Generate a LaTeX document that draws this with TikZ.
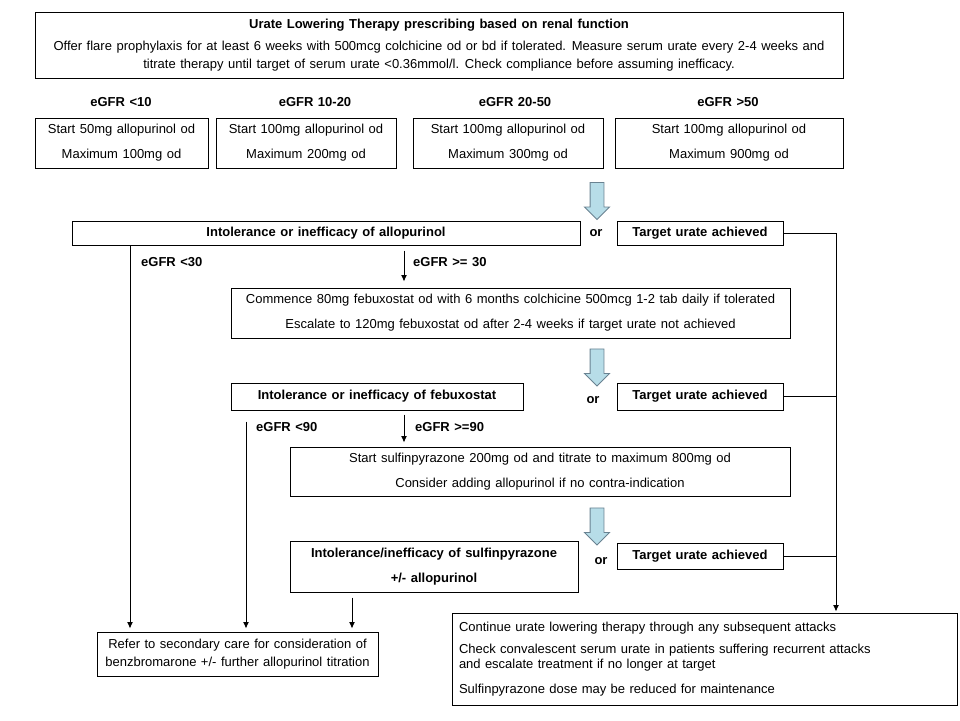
\documentclass[tikz,border=0pt]{standalone}
\usepackage{fontspec}
\setmainfont[WordSpace=1.25]{Liberation Sans}
\usetikzlibrary{shapes,arrows,arrows.meta}
\usetikzlibrary{positioning}

\definecolor{arrowblue}{RGB}{183,221,232}
\definecolor{arrowline}{RGB}{105,130,145}

\begin{document}
\fontsize{13}{15}\selectfont
\begin{tikzpicture}[>={Latex[length=6.5pt,width=6pt]}, x=1pt, y=-1pt]
	\tikzstyle{box} = [draw, line width=1pt, align=center, inner sep=0pt];
	\tikzstyle{bbox} = [box, font=\bfseries];
	\tikzstyle{lbl} = [inner sep=0pt, font=\bfseries];
	\tikzstyle{fat arrow} = [single arrow, draw=arrowline, fill=arrowblue, line width=0.9pt,
		rotate=-90, minimum height=37pt, inner sep=6.5pt,
		single arrow head extend=5.5pt];
	\tikzstyle{link} = [line width=0.9pt];

	\useasboundingbox (0,0) rectangle (960,720);

	% heading
	\node [box, minimum width=808pt, minimum height=66pt] (h_0) at (439,45)
		{\textbf{Urate Lowering Therapy prescribing based on renal function}\\[7pt]
		 Offer flare prophylaxis for at least 6 weeks with 500mcg colchicine od or bd if tolerated. Measure serum urate every 2-4 weeks and\\[3pt]
		 titrate therapy until target of serum urate <0.36mmol/l. Check compliance before assuming inefficacy.};

	% allopurinol by eGFR
	\node [lbl] (g_1) at (121,102) {eGFR <10};
	\node [lbl] (g_2) at (315,102) {eGFR 10-20};
	\node [lbl] (g_3) at (515,102) {eGFR 20-50};
	\node [lbl] (g_4) at (728,102) {eGFR >50};

	\node [box, minimum width=173pt, minimum height=50pt] (b_1) at (121.5,143) {Start 50mg allopurinol od\\[10pt] Maximum 100mg od};
	\node [box, minimum width=180pt, minimum height=50pt] (b_2) at (306,143) {Start 100mg allopurinol od\\[10pt] Maximum 200mg od};
	\node [box, minimum width=190pt, minimum height=50pt] (b_3) at (508,143) {Start 100mg allopurinol od\\[10pt] Maximum 300mg od};
	\node [box, minimum width=228pt, minimum height=50pt] (b_4) at (729,143) {Start 100mg allopurinol od\\[10pt] Maximum 900mg od};

	\node [fat arrow] (a_1) at (597,197.5) {};

	% step 1
	\node [bbox, minimum width=508pt, minimum height=24pt] (i_1) at (326,233) {Intolerance or inefficacy of allopurinol};
	\node [lbl] (o_1) at (596,233) {or};
	\node [bbox, minimum width=166pt, minimum height=24pt] (t_1) at (700,233) {Target urate achieved};

	\node [lbl, anchor=west] (g_5) at (141,262) {eGFR <30};
	\node [lbl, anchor=west] (g_6) at (413,262) {eGFR >= 30};

	\node [box, minimum width=559pt, minimum height=50pt] (c_1) at (510.5,313)
		{Commence 80mg febuxostat od with 6 months colchicine 500mcg 1-2 tab daily if tolerated\\[10pt]
		 Escalate to 120mg febuxostat od after 2-4 weeks if target urate not achieved};

	\node [fat arrow] (a_2) at (597,364) {};

	% step 2
	\node [bbox, minimum width=292pt, minimum height=27pt] (i_2) at (377,396.5) {Intolerance or inefficacy of febuxostat};
	\node [lbl] (o_2) at (593,400) {or};
	\node [bbox, minimum width=166pt, minimum height=27pt] (t_2) at (700,396.5) {Target urate achieved};

	\node [lbl, anchor=west] (g_7) at (256,427) {eGFR <90};
	\node [lbl, anchor=west] (g_8) at (415,427) {eGFR >=90};

	\node [box, minimum width=500pt, minimum height=49pt] (s_1) at (540,471.5)
		{Start sulfinpyrazone 200mg od and titrate to maximum 800mg od\\[10pt]
		 Consider adding allopurinol if no contra-indication};

	\node [fat arrow] (a_3) at (597,523) {};

	% step 3
	\node [bbox, minimum width=288pt, minimum height=51pt] (i_3) at (434,566.5) {Intolerance/inefficacy of sulfinpyrazone\\[10pt] +/- allopurinol};
	\node [lbl] (o_3) at (601,561) {or};
	\node [bbox, minimum width=166pt, minimum height=26pt] (t_3) at (700,556) {Target urate achieved};

	% outcomes
	\node [box, minimum width=281pt, minimum height=44pt] (r_1) at (237.5,654)
		{Refer to secondary care for consideration of\\[3pt] benzbromarone +/- further allopurinol titration};
	\node [box, align=left, text width=491pt, inner xsep=7pt, minimum height=92pt] (k_1) at (704.5,659)
		{Continue urate lowering therapy through any subsequent attacks\\[7pt]
		 Check convalescent serum urate in patients suffering recurrent attacks\\
		 and escalate treatment if no longer at target\\[10pt]
		 Sulfinpyrazone dose may be reduced for maintenance};

	% connectors
	\coordinate (x_1) at (130,0);
	\coordinate (x_2) at (246,0);
	\coordinate (x_3) at (352,0);
	\coordinate (x_4) at (404,0);
	\coordinate (x_5) at (836,0);

	\draw [link, ->, shorten >=3pt] (i_1.south -| x_1) -- (r_1.north -| x_1);
	\draw [link, ->, shorten <=5pt, shorten >=6pt] (i_1.south -| x_4) -- (c_1.north -| x_4);
	\draw [link, ->, shorten <=11pt, shorten >=3pt] (i_2.south -| x_2) -- (r_1.north -| x_2);
	\draw [link, ->, shorten <=4pt, shorten >=4pt] (i_2.south -| x_4) -- (s_1.north -| x_4);
	\draw [link, ->, shorten <=5pt, shorten >=3pt] (i_3.south -| x_3) -- (r_1.north -| x_3);
	\draw [link, ->, shorten >=1pt] (t_1.east) -| (k_1.north -| x_5);
	\draw [link] (t_2.east) -- (t_2.east -| x_5);
	\draw [link] (t_3.east) -- (t_3.east -| x_5);
\end{tikzpicture}
\end{document}
